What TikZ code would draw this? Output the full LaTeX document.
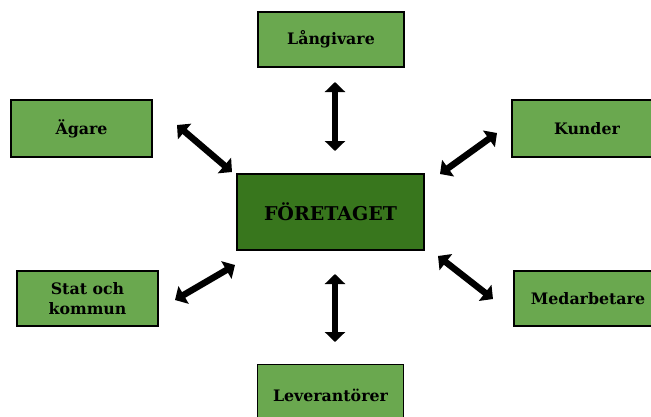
\documentclass[tikz,border=0pt]{standalone}
\usepackage{fontspec}
\setmainfont{DejaVu Serif}
\usetikzlibrary{arrows.meta}
\definecolor{lightg}{HTML}{6AA84F}
\definecolor{darkg}{HTML}{38761D}
\tikzset{
  party/.style={draw=black, line width=1.8pt, fill=lightg, minimum width=146pt, minimum height=55pt, inner sep=0pt, align=center, font=\fontsize{15.8}{20}\selectfont\bfseries},
  firm/.style={draw=black, line width=2pt, fill=darkg, minimum width=187pt, minimum height=76pt, inner sep=0pt, font=\fontsize{19}{21}\selectfont\bfseries},
  link/.style={line width=6.5pt, {Triangle[length=10pt,width=20pt]}-{Triangle[length=10pt,width=20pt]}}
}
\begin{document}
\begin{tikzpicture}[x=1pt,y=-1pt]
\useasboundingbox (0,0) rectangle (651,416);
\node[firm] (firm) at (330.5,212) {FÖRETAGET};
\node[party] (lang) at (331,39.5) {Långivare};
\node[party, minimum width=141pt, minimum height=57pt] (agare) at (81.5,128.5) {Ägare};
\node[party, minimum width=150pt, minimum height=57pt] (kund) at (587,128.5) {Kunder};
\node[party, minimum width=141pt] (stat) at (87.5,298.5) {Stat och\\kommun};
\node[party, minimum width=148pt] (med) at (588,298.5) {Medarbetare};
\node[party, minimum height=62pt] (lev) at (330.5,395.5) {Leverantörer};
% arrow end points
\coordinate (a1) at (335,82);   \coordinate (a2) at (335,151);
\coordinate (b1) at (177,125);  \coordinate (b2) at (232,172);
\coordinate (c1) at (497,133);  \coordinate (c2) at (440,174);
\coordinate (d1) at (175,300);  \coordinate (d2) at (235,265);
\coordinate (e1) at (438,256);  \coordinate (e2) at (493,299);
\coordinate (f1) at (335,274);  \coordinate (f2) at (335,342);
\draw[link] (a1) -- (a2);
\draw[link] (b1) -- (b2);
\draw[link] (c1) -- (c2);
\draw[link] (d1) -- (d2);
\draw[link] (e1) -- (e2);
\draw[link] (f1) -- (f2);
\end{tikzpicture}
\end{document}
